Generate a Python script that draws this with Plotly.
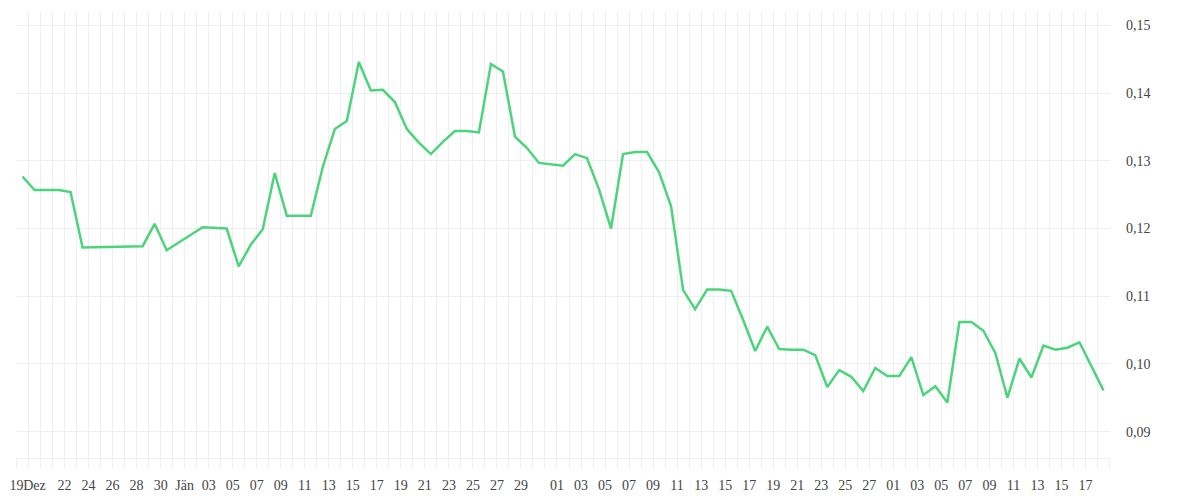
import pandas as pd
import plotly.graph_objects as go

# daily values (missing days are simply left out, the line joins across them)
dates = [
    "2018-12-18", "2018-12-19", "2018-12-21", "2018-12-22", "2018-12-23",
    "2018-12-28", "2018-12-29", "2018-12-30", "2019-01-02", "2019-01-04",
    "2019-01-05", "2019-01-06", "2019-01-07", "2019-01-08", "2019-01-09",
    "2019-01-11", "2019-01-12", "2019-01-13", "2019-01-14", "2019-01-15",
    "2019-01-16", "2019-01-17", "2019-01-18", "2019-01-19", "2019-01-20",
    "2019-01-21", "2019-01-22", "2019-01-23", "2019-01-24", "2019-01-25",
    "2019-01-26", "2019-01-27", "2019-01-28", "2019-01-29", "2019-01-30",
    "2019-01-31", "2019-02-01", "2019-02-02", "2019-02-03", "2019-02-04",
    "2019-02-05", "2019-02-06", "2019-02-07", "2019-02-08", "2019-02-09",
    "2019-02-10", "2019-02-11", "2019-02-12", "2019-02-13", "2019-02-14",
    "2019-02-15", "2019-02-16", "2019-02-17", "2019-02-18", "2019-02-19",
    "2019-02-20", "2019-02-21", "2019-02-22", "2019-02-23", "2019-02-24",
    "2019-02-25", "2019-02-26", "2019-02-27", "2019-02-28", "2019-03-01",
    "2019-03-02", "2019-03-03", "2019-03-04", "2019-03-05", "2019-03-06",
    "2019-03-07", "2019-03-08", "2019-03-09", "2019-03-10", "2019-03-11",
    "2019-03-12", "2019-03-13", "2019-03-14", "2019-03-15", "2019-03-16",
    "2019-03-18",
]
values = [
    0.1277, 0.1257, 0.1257, 0.1254, 0.1172,
    0.1174, 0.1207, 0.1168, 0.1202, 0.1200,
    0.1144, 0.1176, 0.1199, 0.1282, 0.1219,
    0.1219, 0.1291, 0.1347, 0.1359, 0.1446,
    0.1404, 0.1405, 0.1387, 0.1347, 0.1327,
    0.1310, 0.1328, 0.1344, 0.1344, 0.1342,
    0.1443, 0.1432, 0.1336, 0.1319, 0.1297,
    0.1295, 0.1293, 0.1310, 0.1304, 0.1258,
    0.1200, 0.1310, 0.1313, 0.1313, 0.1283,
    0.1233, 0.1109, 0.1081, 0.1110, 0.1110,
    0.1108, 0.1065, 0.1019, 0.1055, 0.1022,
    0.1021, 0.1021, 0.1013, 0.0966, 0.0991,
    0.0981, 0.0960, 0.0994, 0.0982, 0.0982,
    0.1010, 0.0954, 0.0967, 0.0943, 0.1062,
    0.1062, 0.1049, 0.1016, 0.0950, 0.1008,
    0.0980, 0.1027, 0.1021, 0.1024, 0.1032,
    0.0961,
]

# axis labels
tick_dates = [
    "2018-12-18", "2018-12-19 12:00", "2018-12-22", "2018-12-24", "2018-12-26",
    "2018-12-28", "2018-12-30", "2019-01-01", "2019-01-03", "2019-01-05",
    "2019-01-07", "2019-01-09", "2019-01-11", "2019-01-13", "2019-01-15",
    "2019-01-17", "2019-01-19", "2019-01-21", "2019-01-23", "2019-01-25",
    "2019-01-27", "2019-01-29", "2019-02-01", "2019-02-03", "2019-02-05",
    "2019-02-07", "2019-02-09", "2019-02-11", "2019-02-13", "2019-02-15",
    "2019-02-17", "2019-02-19", "2019-02-21", "2019-02-23", "2019-02-25",
    "2019-02-27", "2019-03-01", "2019-03-03", "2019-03-05", "2019-03-07",
    "2019-03-09", "2019-03-11", "2019-03-13", "2019-03-15", "2019-03-17",
]
tick_labels = [
    "19", "Dez", "22", "24", "26", "28", "30", "Jän", "03", "05",
    "07", "09", "11", "13", "15", "17", "19", "21", "23", "25",
    "27", "29", "01", "03", "05", "07", "09", "11", "13", "15",
    "17", "19", "21", "23", "25", "27", "01", "03", "05", "07",
    "09", "11", "13", "15", "17",
]

df = pd.DataFrame({"Datum": pd.to_datetime(dates) + pd.Timedelta(hours=12), "Wert": values})

grid = "#efefef"
font = dict(family="Liberation Serif", size=14, color="#444")

fig = go.Figure()
fig.add_trace(go.Scatter(
    x=df["Datum"], y=df["Wert"], mode="lines",
    line=dict(color="#4cd47c", width=2.5),
    hoverinfo="x+y",
))

# page body adds 8px, so the figure is a bit smaller than the window
fig.update_layout(
    width=1192, height=492,
    margin=dict(l=8, r=90, t=4, b=42),
    plot_bgcolor="white", paper_bgcolor="white",
    separators=", ",
    showlegend=False,
    font=font,
)
fig.update_xaxes(
    type="date",
    range=["2018-12-17 23:00", "2019-03-19 01:00"],
    tickmode="array", tickvals=tick_dates, ticktext=tick_labels,
    tickangle=0, automargin=False,
    showgrid=False,
    ticks="outside", ticklen=14, tickcolor="rgba(0,0,0,0)",
    showline=True, linecolor=grid, linewidth=1,
    minor=dict(
        tickmode="linear", tick0="2018-12-18", dtick=86400000,
        showgrid=True, gridcolor=grid, gridwidth=1,
        ticks="outside", ticklen=9, tickcolor=grid,
    ),
    tickfont=font,
    zeroline=False,
)
fig.update_yaxes(
    side="right", automargin=False,
    range=[0.0861, 0.1520],
    tickmode="linear", tick0=0.09, dtick=0.01, tickformat=".2f",
    showgrid=True, gridcolor=grid, gridwidth=1,
    ticks="", ticklabelstandoff=15,
    zeroline=False,
    tickfont=font,
)

fig.write_html("out.html")
